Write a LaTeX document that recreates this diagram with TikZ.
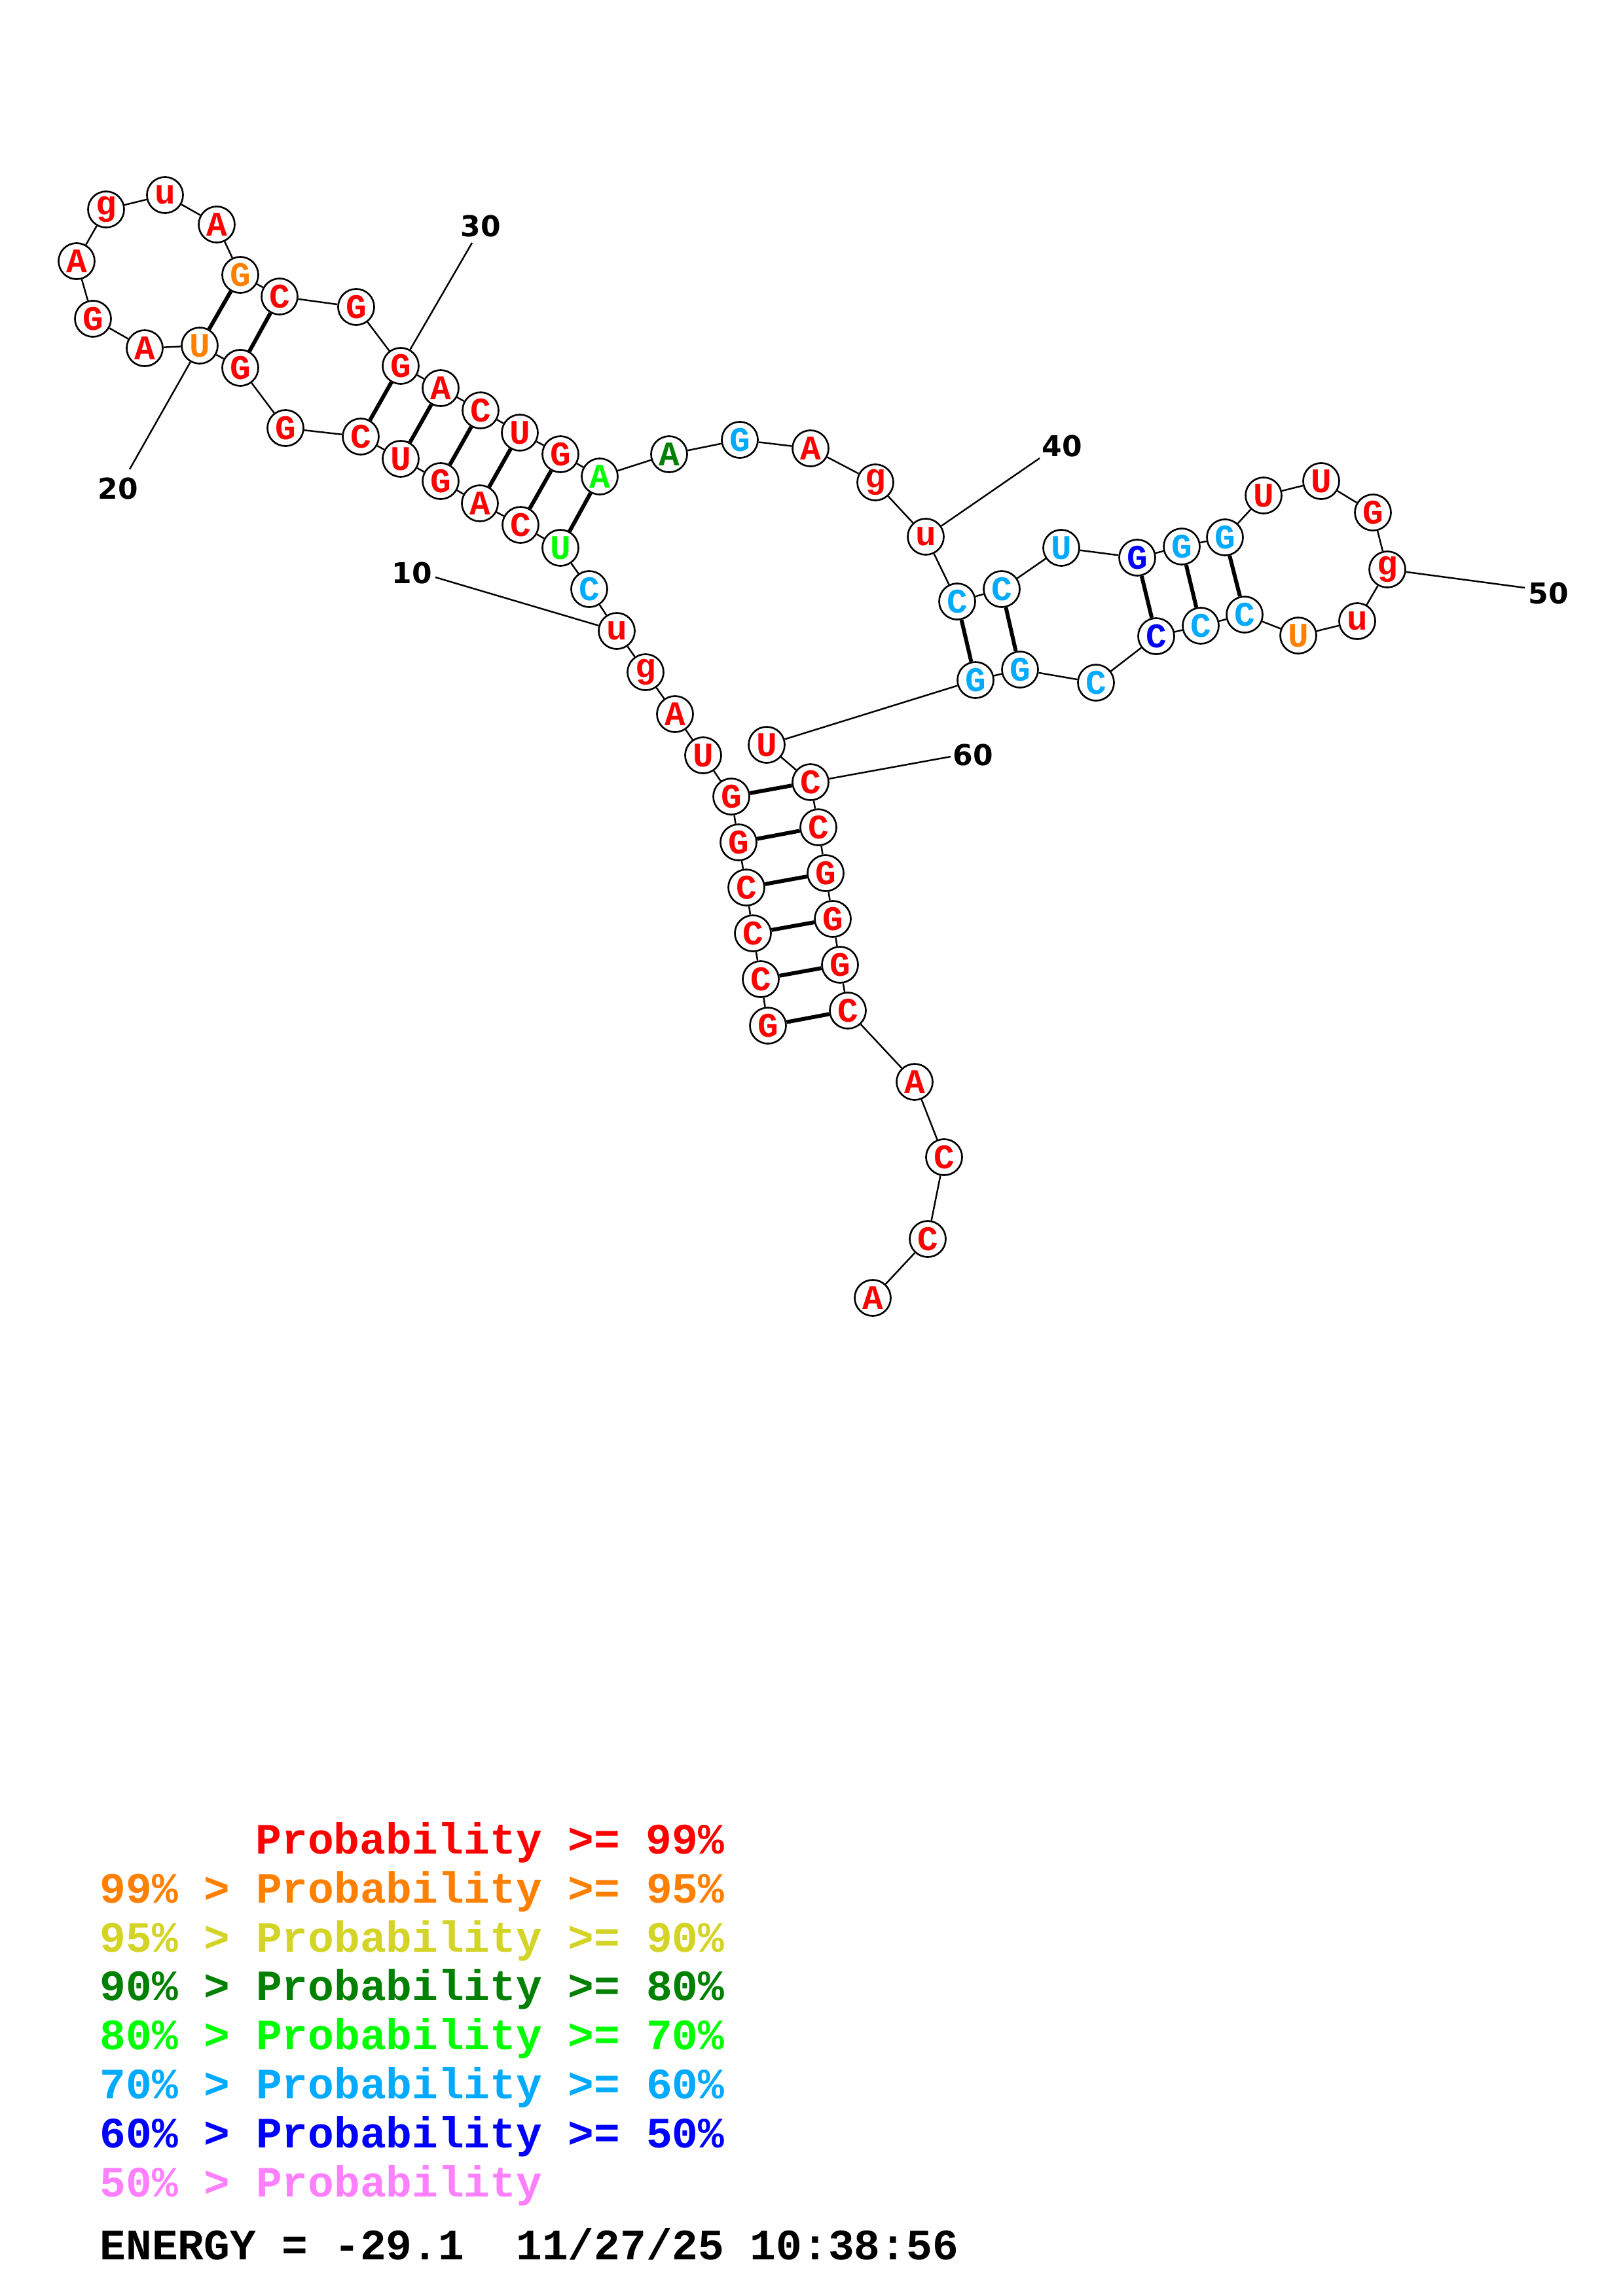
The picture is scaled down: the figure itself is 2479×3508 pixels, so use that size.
\documentclass[tikz,border=0pt]{standalone}
\usepackage{fontspec}
\newfontfamily\mono{Liberation Mono}
\newfontfamily\labf{DejaVu Sans}
\definecolor{cR}{RGB}{255,0,0}
\definecolor{cO}{RGB}{255,128,0}
\definecolor{cY}{RGB}{212,212,38}
\definecolor{cDG}{RGB}{0,128,0}
\definecolor{cLG}{RGB}{0,255,0}
\definecolor{cLB}{RGB}{0,170,255}
\definecolor{cB}{RGB}{0,0,255}
\definecolor{cP}{RGB}{255,128,255}
\tikzset{
  nt/.style={circle, draw=black, line width=0.75pt, fill=white, minimum size=0.55cm, inner sep=0pt,
    font=\mono\bfseries\fontsize{15}{15}\selectfont},
  bb/.style={line width=0.7pt},
  bp/.style={line width=1.7pt},
  num/.style={font=\labf\bfseries\fontsize{12.5}{12.5}\selectfont, inner sep=0pt},
  leg/.style={anchor=base west, inner sep=0pt, font=\mono\bfseries\fontsize{18.83}{18.83}\selectfont}
}
\begin{document}
\begin{tikzpicture}[x=0.01cm,y=-0.01cm]
\useasboundingbox[fill=white] (0,0) rectangle (2479,3508);
\foreach \n/\c/\t/\x/\y in {
1/cR/G/1173/1567, 2/cR/C/1162/1496, 3/cR/C/1150/1426, 4/cR/C/1140/1356, 5/cR/G/1128/1287,
6/cR/G/1117/1217, 7/cR/U/1074/1154, 8/cR/A/1031/1091, 9/cR/g/986/1027, 10/cR/u/942/964,
11/cLB/C/900/900, 12/cLG/U/856/837, 13/cR/C/795/802, 14/cR/A/733/769, 15/cR/G/673/735,
16/cR/U/612/701, 17/cR/C/551/667, 18/cR/G/436/654, 19/cR/G/367/562, 20/cO/U/305/528,
21/cR/A/221/532, 22/cR/G/142/487, 23/cR/A/117/399, 24/cR/g/162/320, 25/cR/u/252/298,
26/cR/A/331/343, 27/cO/G/367/420, 28/cR/C/427/453, 29/cR/G/544/469, 30/cR/G/612/559,
31/cR/A/673/593, 32/cR/C/734/627, 33/cR/U/794/661, 34/cR/G/856/694, 35/cLG/A/916/728,
36/cDG/A/1022/694, 37/cLB/G/1130/672, 38/cR/A/1238/685, 39/cR/g/1337/737, 40/cR/u/1414/820,
41/cLB/C/1462/919, 42/cLB/C/1530/900, 43/cLB/U/1621/837, 44/cB/G/1737/852, 45/cLB/G/1805/835,
46/cLB/G/1871/821, 47/cR/U/1930/757, 48/cR/U/2018/735, 49/cR/G/2097/783, 50/cR/g/2119/870,
51/cR/u/2073/949, 52/cO/U/1983/971, 53/cLB/C/1901/939, 54/cLB/C/1834/956, 55/cB/C/1766/972,
56/cLB/C/1674/1043, 57/cLB/G/1558/1023, 58/cLB/G/1490/1039, 59/cR/U/1171/1138, 60/cR/C/1238/1195,
61/cR/C/1250/1264, 62/cR/G/1261/1334, 63/cR/G/1272/1404, 64/cR/G/1283/1474, 65/cR/C/1295/1544,
66/cR/A/1397/1653, 67/cR/C/1442/1768, 68/cR/C/1417/1893, 69/cR/A/1333/1983}
  {\node[nt, text=\c] (n\n) at (\x,\y) {\t};}
% backbone
\foreach \i [evaluate=\i as \j using int(\i+1)] in {1,...,68}
  {\draw[bb] (n\i) -- (n\j);}
% base pairs
\foreach \a/\b in {1/65,2/64,3/63,4/62,5/61,6/60,12/35,13/34,14/33,15/32,16/31,17/30,19/28,20/27,41/58,42/57,44/55,45/54,46/53}
  {\draw[bp] (n\a) -- (n\b);}
% position labels
\foreach \k/\lx/\ly/\cx/\cy in {10/629/875/665/882, 20/180/746/198/717, 30/734/345/721/371,
  40/1622/681/1588/700, 50/2365/906/2329/898, 60/1486/1153/1452/1156}
  {\node[num] (l\k) at (\lx,\ly) {\k};
   \coordinate (c\k) at (\cx,\cy);
   \draw[bb] (c\k) -- (n\k);}
% legend
\node[leg, text=cR] (g1) at (390,2832) {Probability >= 99\%};
\node[leg, text=cO] (g2) at (152,2907) {99\% > Probability >= 95\%};
\node[leg, text=cY] (g3) at (152,2982) {95\% > Probability >= 90\%};
\node[leg, text=cDG] (g4) at (152,3056) {90\% > Probability >= 80\%};
\node[leg, text=cLG] (g5) at (152,3131) {80\% > Probability >= 70\%};
\node[leg, text=cLB] (g6) at (152,3206) {70\% > Probability >= 60\%};
\node[leg, text=cB] (g7) at (152,3281) {60\% > Probability >= 50\%};
\node[leg, text=cP] (g8) at (152,3356) {50\% > Probability};
\node[leg, text=black] (en) at (152,3452) {ENERGY = -29.1~~11/27/25 10:38:56};
\end{tikzpicture}
\end{document}
